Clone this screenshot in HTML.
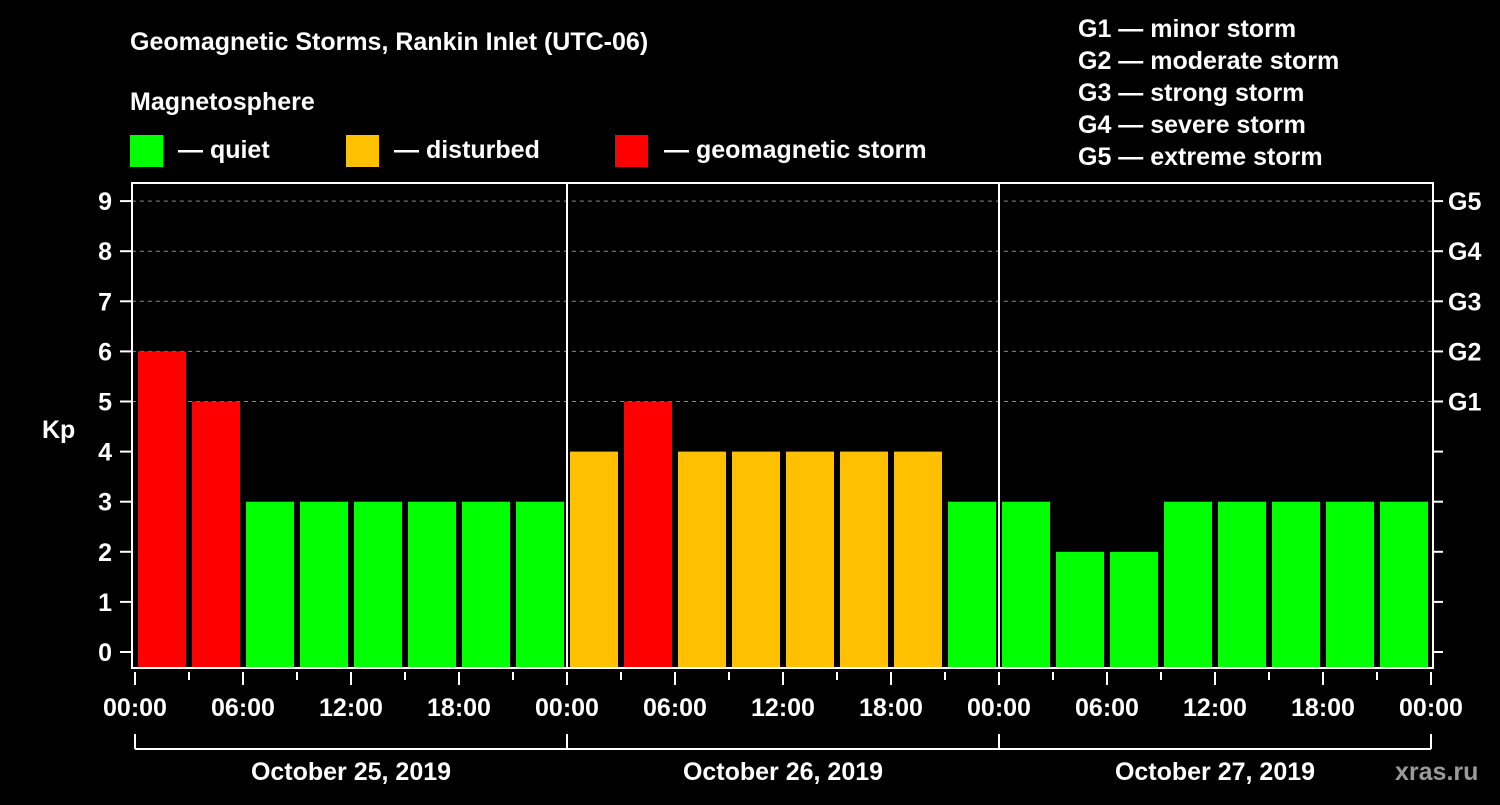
<!DOCTYPE html>
<html><head><meta charset="utf-8"><style>
body{margin:0;background:#000;width:1500px;height:800px;overflow:hidden}
svg text{font-family:"Liberation Sans",Arial,sans-serif;font-weight:bold;fill:#fff}
</style></head><body>
<svg id="c" width="1500" height="800" xmlns="http://www.w3.org/2000/svg">
<rect width="1500" height="800" fill="#000"/>
<text x="130" y="50" font-size="25">Geomagnetic Storms, Rankin Inlet (UTC-06)</text>
<text x="130" y="110" font-size="25">Magnetosphere</text>
<rect x="130" y="135" width="33" height="32" fill="#00ff00"/>
<text x="178" y="158" font-size="25">— quiet</text>
<rect x="346" y="135" width="33" height="32" fill="#ffc000"/>
<text x="394" y="158" font-size="25">— disturbed</text>
<rect x="615" y="135" width="33" height="32" fill="#ff0000"/>
<text x="664" y="158" font-size="25">— geomagnetic storm</text>
<g font-size="25">
<text x="1078" y="37">G1 — minor storm</text>
<text x="1078" y="69">G2 — moderate storm</text>
<text x="1078" y="101">G3 — strong storm</text>
<text x="1078" y="133">G4 — severe storm</text>
<text x="1078" y="165">G5 — extreme storm</text>
</g>
<text x="42" y="438" font-size="25">Kp</text>
<text x="1395" y="780" font-size="25" fill="#999" style="fill:#9a9a9a">xras.ru</text>
<g id="grid"></g><g id="bars"></g><g id="axes"></g>
</svg>
<script>
const kpValues=[6,5,3,3,3,3,3,3,4,5,4,4,4,4,4,3,3,2,2,3,3,3,3,3];
const yTicks=[0,1,2,3,4,5,6,7,8,9];
const gLabels=["G1","G2","G3","G4","G5"];
const xTickLabels=["00:00","06:00","12:00","18:00","00:00","06:00","12:00","18:00","00:00","06:00","12:00","18:00","00:00"];
const dayLabels=["October 25, 2019","October 26, 2019","October 27, 2019"];
const NS="http://www.w3.org/2000/svg";
const X0=135,SLOT=54,Y0=652,UNIT=50.1,BOT=668,TOP=183,RIGHT=1433;
const xs=i=>X0+SLOT*i;
const ys=v=>Y0-UNIT*v;
function mk(t,a,p){const e=document.createElementNS(NS,t);for(const k in a)e.setAttribute(k,a[k]);p.appendChild(e);return e;}
const grid=document.getElementById('grid'),bars=document.getElementById('bars'),axes=document.getElementById('axes');
yTicks.forEach(v=>{
  if(v>=5){const l=mk('line',{x1:132,x2:RIGHT,y1:ys(v),y2:ys(v),stroke:'#888','stroke-dasharray':'4,4','stroke-width':1},grid);
  
  }
  mk('line',{x1:120,x2:132,y1:ys(v),y2:ys(v),stroke:'#fff','stroke-width':2},axes);
  mk('line',{x1:RIGHT,x2:RIGHT+10,y1:ys(v),y2:ys(v),stroke:'#fff','stroke-width':2},axes);
  const t=mk('text',{x:112,y:ys(v)+9,'font-size':25,'text-anchor':'end'},axes);t.textContent=v;
  
  
});
gLabels.forEach((g,i)=>{const t=mk('text',{x:1448,y:ys(i+5)+9,'font-size':25},axes);t.textContent=g;
  
  });
kpValues.forEach((v,i)=>{
  const c=v>=5?'#ff0000':v>=4?'#ffc000':'#00ff00';
  const r=mk('rect',{x:xs(i)+3,y:ys(v),width:48,height:BOT-ys(v),fill:c},bars);
  
  
});
mk('rect',{x:132,y:TOP,width:RIGHT-132,height:BOT-TOP,fill:'none',stroke:'#fff','stroke-width':2},axes);
[1,2].forEach(d=>mk('line',{x1:xs(8*d),x2:xs(8*d),y1:TOP,y2:BOT,stroke:'#fff','stroke-width':2},axes));
for(let i=0;i<=24;i++){mk('line',{x1:xs(i),x2:xs(i),y1:672,y2:i%2?680:685,stroke:'#fff','stroke-width':2},axes);}
xTickLabels.forEach((s,i)=>{const t=mk('text',{x:xs(2*i),y:716,'font-size':25,'text-anchor':'middle'},axes);t.textContent=s;
  
  });
mk('line',{x1:xs(0),x2:xs(24),y1:749,y2:749,stroke:'#fff','stroke-width':2},axes);
for(let d=0;d<=3;d++)mk('line',{x1:xs(8*d),x2:xs(8*d),y1:734,y2:749,stroke:'#fff','stroke-width':2},axes);
dayLabels.forEach((s,d)=>{const t=mk('text',{x:xs(8*d+4),y:780,'font-size':25,'text-anchor':'middle'},axes);t.textContent=s;
  
  });
</script>
</body></html>
